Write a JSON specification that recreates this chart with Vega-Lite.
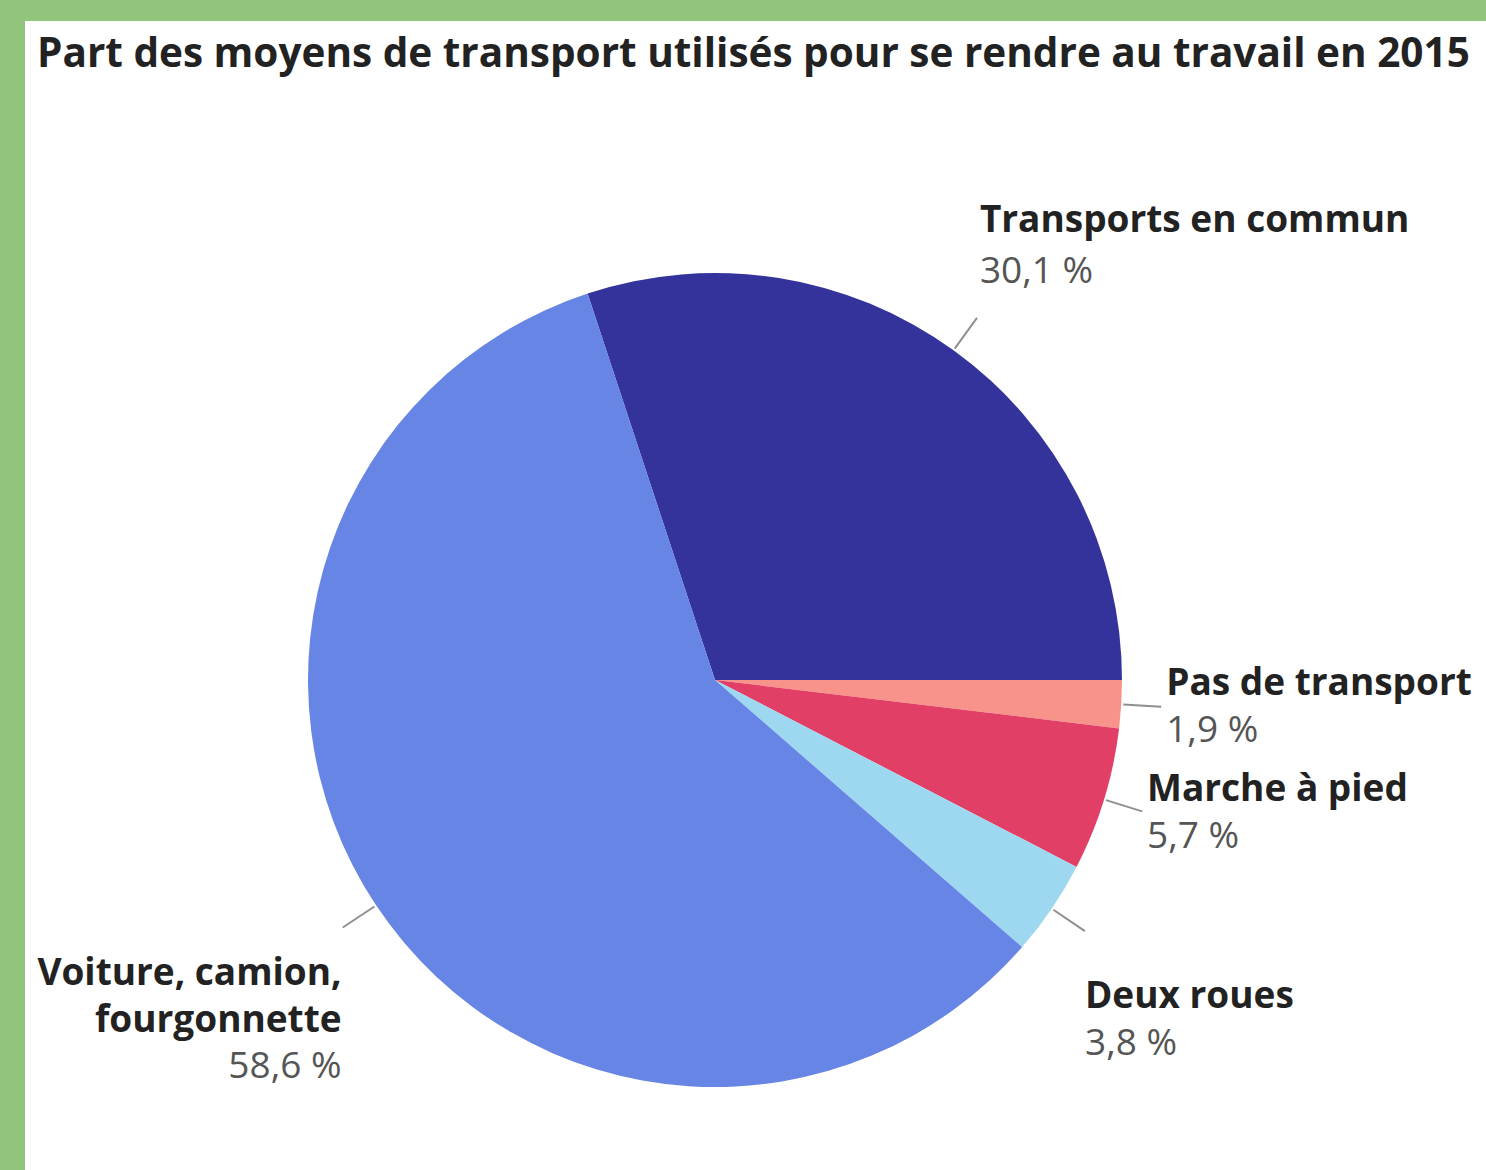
{
  "$schema": "https://vega.github.io/schema/vega-lite/v6.json",
  "background": "#ffffff",
  "padding": 0,
  "autosize": {"type": "pad"},
  "config": {
    "view": {"stroke": "transparent", "strokeWidth": 0},
    "text": {"font": "Open Sans"}
  },
  "title": {
    "text": "Part des moyens de transport utilisés pour se rendre au travail en 2015",
    "anchor": "start", "frame": "group", "offset": -107, "dx": 37, "baseline": "alphabetic",
    "font": "Open Sans", "fontSize": 40.5, "fontWeight": "bold", "color": "#222222"
  },
  "bounds": "flush",
  "spacing": 0,
  "vconcat": [
    {
      "width": 1486, "height": 21,
      "view": {"fill": "#92C47C", "stroke": "transparent", "strokeWidth": 0},
      "data": {"values": []},
      "mark": "text",
      "encoding": {}
    },
    {
      "bounds": "flush",
      "spacing": 0,
      "hconcat": [
        {
          "width": 25, "height": 1149,
          "view": {"fill": "#92C47C", "stroke": "transparent", "strokeWidth": 0},
          "data": {"values": []},
          "mark": "text",
          "encoding": {}
        },
        {
          "bounds": "flush",
          "spacing": 0,
          "vconcat": [
            {
              "width": 1461, "height": 169,
              "data": {"values": []},
              "mark": "text",
              "encoding": {}
            },
            {
              "width": 1380, "height": 980,
              "data": {"values": [
                {"categorie": "Transports en commun", "nom": "Transports en commun", "valeur": 30.1, "pct": "30,1 %", "ordre": 1},
                {"categorie": "Pas de transport", "nom": "Pas de transport", "valeur": 1.9, "pct": "1,9 %", "ordre": 2},
                {"categorie": "Marche à pied", "nom": "Marche à pied", "valeur": 5.7, "pct": "5,7 %", "ordre": 3},
                {"categorie": "Deux roues", "nom": "Deux roues", "valeur": 3.8, "pct": "3,8 %", "ordre": 4},
                {"categorie": "Voiture, camion, fourgonnette", "nom": "Voiture, camion,\nfourgonnette", "valeur": 58.6, "pct": "58,6 %", "ordre": 5}
              ]},
              "transform": [
                {"stack": "valeur", "groupby": [], "sort": [{"field": "ordre", "order": "ascending"}], "as": ["v0", "v1"]},
                {"fold": ["v0", "v1"], "as": ["bord", "angle"]},
                {"aggregate": [
                  {"op": "mean", "field": "angle", "as": "mid"},
                  {"op": "min", "field": "angle", "as": "debut"},
                  {"op": "max", "field": "angle", "as": "fin"}
                ], "groupby": ["categorie", "nom", "pct", "ordre"]}
              ],
              "layer": [
                {
                  "mark": {"type": "arc", "outerRadius": 407},
                  "encoding": {
                    "theta": {"field": "debut", "type": "quantitative", "stack": null, "scale": {"domain": [0, 100.1], "range": [-0.3185, 5.9647]}},
                    "theta2": {"field": "fin"},
                    "color": {"field": "categorie", "type": "nominal", "legend": null,
                      "scale": {"domain": ["Transports en commun", "Pas de transport", "Marche à pied", "Deux roues", "Voiture, camion, fourgonnette"],
                                "range": ["#34339B", "#F7938B", "#E23F66", "#9ED8F0", "#6685E4"]}}
                  }
                },
                {
                  "mark": {"type": "arc", "innerRadius": 409, "outerRadius": 447, "filled": false, "stroke": "#8f8f8f", "strokeWidth": 2},
                  "encoding": {
                    "theta": {"field": "mid", "type": "quantitative", "stack": null, "scale": {"domain": [0, 100.1], "range": [-0.3185, 5.9647]}},
                    "theta2": {"field": "mid"}
                  }
                },
                {
                  "transform": [{"filter": "datum.mid < 20"}],
                  "layer": [
                    {"mark": {"type": "text", "radius": 452, "align": "left", "baseline": "alphabetic", "dy": -82, "fontSize": 37, "fontWeight": "bold", "fill": "#222222", "lineBreak": "\n", "lineHeight": 47},
                     "encoding": {"theta": {"field": "mid", "type": "quantitative", "stack": null, "scale": {"domain": [0, 100.1], "range": [-0.3185, 5.9647]}}, "text": {"field": "nom"}}},
                    {"mark": {"type": "text", "radius": 452, "align": "left", "baseline": "alphabetic", "dy": -31, "fontSize": 37, "fill": "#555555"},
                     "encoding": {"theta": {"field": "mid", "type": "quantitative", "stack": null, "scale": {"domain": [0, 100.1], "range": [-0.3185, 5.9647]}}, "text": {"field": "pct"}}}
                  ]
                },
                {
                  "transform": [{"filter": "datum.mid >= 20 && datum.mid < 37"}],
                  "layer": [
                    {"mark": {"type": "text", "radius": 452, "align": "left", "baseline": "alphabetic", "dy": -12, "fontSize": 37, "fontWeight": "bold", "fill": "#222222", "lineBreak": "\n", "lineHeight": 47},
                     "encoding": {"theta": {"field": "mid", "type": "quantitative", "stack": null, "scale": {"domain": [0, 100.1], "range": [-0.3185, 5.9647]}}, "text": {"field": "nom"}}},
                    {"mark": {"type": "text", "radius": 452, "align": "left", "baseline": "alphabetic", "dy": 35, "fontSize": 37, "fill": "#555555"},
                     "encoding": {"theta": {"field": "mid", "type": "quantitative", "stack": null, "scale": {"domain": [0, 100.1], "range": [-0.3185, 5.9647]}}, "text": {"field": "pct"}}}
                  ]
                },
                {
                  "transform": [{"filter": "datum.mid >= 37 && datum.mid < 50"}],
                  "layer": [
                    {"mark": {"type": "text", "radius": 452, "align": "left", "baseline": "alphabetic", "dx": -4, "dy": 74, "fontSize": 37, "fontWeight": "bold", "fill": "#222222", "lineBreak": "\n", "lineHeight": 47},
                     "encoding": {"theta": {"field": "mid", "type": "quantitative", "stack": null, "scale": {"domain": [0, 100.1], "range": [-0.3185, 5.9647]}}, "text": {"field": "nom"}}},
                    {"mark": {"type": "text", "radius": 452, "align": "left", "baseline": "alphabetic", "dx": -4, "dy": 121, "fontSize": 37, "fill": "#555555"},
                     "encoding": {"theta": {"field": "mid", "type": "quantitative", "stack": null, "scale": {"domain": [0, 100.1], "range": [-0.3185, 5.9647]}}, "text": {"field": "pct"}}}
                  ]
                },
                {
                  "transform": [{"filter": "datum.mid >= 50"}],
                  "layer": [
                    {"mark": {"type": "text", "radius": 452, "align": "right", "baseline": "alphabetic", "dx": 3, "dy": 55, "fontSize": 37, "fontWeight": "bold", "fill": "#222222", "lineBreak": "\n", "lineHeight": 47},
                     "encoding": {"theta": {"field": "mid", "type": "quantitative", "stack": null, "scale": {"domain": [0, 100.1], "range": [-0.3185, 5.9647]}}, "text": {"field": "nom"}}},
                    {"mark": {"type": "text", "radius": 452, "align": "right", "baseline": "alphabetic", "dx": 3, "dy": 148, "fontSize": 37, "fill": "#555555"},
                     "encoding": {"theta": {"field": "mid", "type": "quantitative", "stack": null, "scale": {"domain": [0, 100.1], "range": [-0.3185, 5.9647]}}, "text": {"field": "pct"}}}
                  ]
                }
              ]
            }
          ]
        }
      ]
    }
  ]
}
